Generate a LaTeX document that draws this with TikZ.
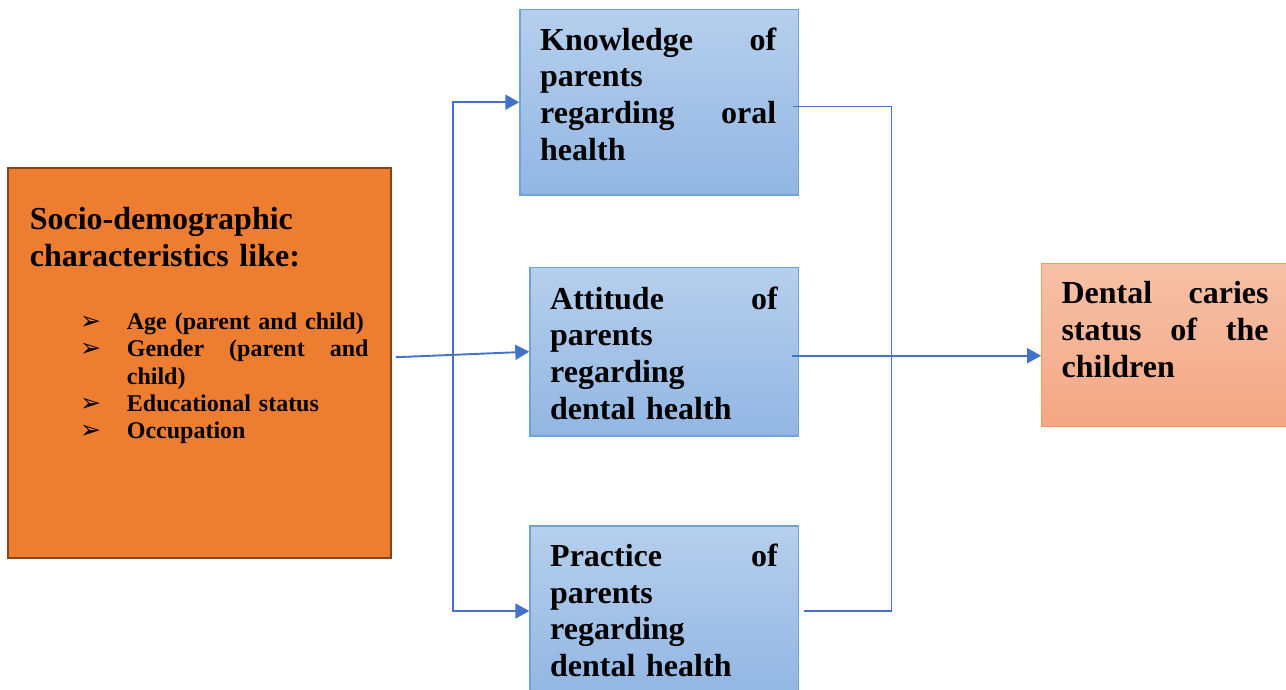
\documentclass[tikz,border=0pt]{standalone}
\usepackage{fontspec}
\setmainfont{Liberation Serif}
\newfontfamily\arrowfont{DejaVu Sans}
\usetikzlibrary{calc,arrows.meta}

\definecolor{blueTop}{HTML}{B6CFEC}
\definecolor{blueBot}{HTML}{92B6E3}
\definecolor{blueEdge}{HTML}{70A3DC}
\definecolor{socioFill}{HTML}{ED7D31}
\definecolor{socioEdge}{HTML}{8A4216}
\definecolor{dentTop}{HTML}{F6C1A7}
\definecolor{dentBot}{HTML}{F4A784}
\definecolor{dentEdge}{HTML}{F29B5E}
\definecolor{lineBlue}{HTML}{4472C4}

% justified line: words split by \hfill
\newcommand{\jl}[1]{\leavevmode\hbox to \hsize{#1}}
\newcommand{\itm}[1]{\leavevmode\hbox to 46.7pt{\arrowfont\fontsize{25}{27}\selectfont ➢\hfill}#1}

\tikzset{
% Boxes: blue for parents, orange for the factors, salmon for the outcome
blue node/.style={rectangle,draw=blueEdge,line width=1.3pt,top color=blueTop,bottom color=blueBot,inner sep=0},
socio node/.style={rectangle,draw=socioEdge,line width=2.2pt,fill=socioFill,inner sep=0},
dental node/.style={rectangle,draw=dentEdge,line width=1.2pt,top color=dentTop,bottom color=dentBot,inner sep=0},
big text/.style={anchor=base west,inner sep=0,align=left,font=\bfseries\fontsize{32}{36.7}\selectfont},
list text/.style={anchor=base west,inner sep=0,align=left,text width=288.3pt,font=\bfseries\fontsize{24}{27.3}\selectfont},
arrow line/.style={draw=lineBlue,line width=1.9pt,-{Triangle[length=14pt,width=15pt]}},
thin line/.style={draw=lineBlue,line width=1.1pt}
}

\begin{document}
\begin{tikzpicture}[x=1pt,y=-1pt]
  \useasboundingbox (0,0) rectangle (1286,689);
  \clip (0,0) rectangle (1286,689);

  \node[socio node, minimum width=382.4pt, minimum height=389.7pt] (socio) at (199.5,363.2) {};
  \node[blue node, minimum width=278.3pt, minimum height=185.7pt] (know) at (659.1,102.2) {};
  \node[blue node, minimum width=268.3pt, minimum height=168.7pt] (att) at (664.1,351.7) {};
  \node[blue node, minimum width=268.3pt, minimum height=170pt] (prac) at (664.1,611) {};
  \node[dental node, minimum width=250pt, minimum height=163.4pt] (dent) at (1166.7,345) {};

  \node[big text, text width=300pt] (sociotxt) at ($(socio.north west)+(22.4,62.6)$)
    {Socio-demographic\\ characteristics like:};
  \node[list text] (sociolist) at (80,329.5)
    {\itm{Age (parent and child)}\\
     \itm{\hbox to 241.6pt{Gender\hfill (parent\hfill and}}\\
     \hspace*{46.7pt}child)\\
     \itm{Educational status}\\
     \itm{Occupation}};
  \node[big text, text width=236pt] (knowtxt) at ($(know.north west)+(20.7,41.5)$)
    {\jl{Knowledge\hfill of}\\ parents\\ \jl{regarding\hfill oral}\\ health};
  \node[big text, text width=227.6pt] (atttxt) at ($(att.north west)+(20.7,42.5)$)
    {\jl{Attitude\hfill of}\\ parents\\ regarding\\ dental health};
  \node[big text, text width=227.6pt] (practxt) at ($(prac.north west)+(20.7,41.2)$)
    {\jl{Practice\hfill of}\\ parents\\ regarding\\ dental health};
  \node[big text, text width=207pt] (denttxt) at ($(dent.north west)+(20.3,41.2)$)
    {\jl{Dental\hfill caries}\\ \jl{status\hfill of\hfill the}\\ children};

  \coordinate (fork) at (453,352);
  \coordinate (sout) at ($(socio.east)+(4,-6)$);
  \coordinate (kout) at ($(know.east)+(-6,4)$);
  \coordinate (aout) at ($(att.east)+(-7,4)$);
  \coordinate (pout) at ($(prac.east)+(5,0)$);
  \coordinate (join) at (891.5,356);

  \draw[thin line] (kout) -| (join) |- (pout);
  \draw[arrow line] (sout) -- (att.west);
  \draw[arrow line, {Triangle[length=14pt,width=15pt]}-{Triangle[length=14pt,width=15pt]}]
    (know.west) -| (fork) |- (prac.west);
  \draw[arrow line] (aout) -- (aout -| dent.west);
\end{tikzpicture}
\end{document}
